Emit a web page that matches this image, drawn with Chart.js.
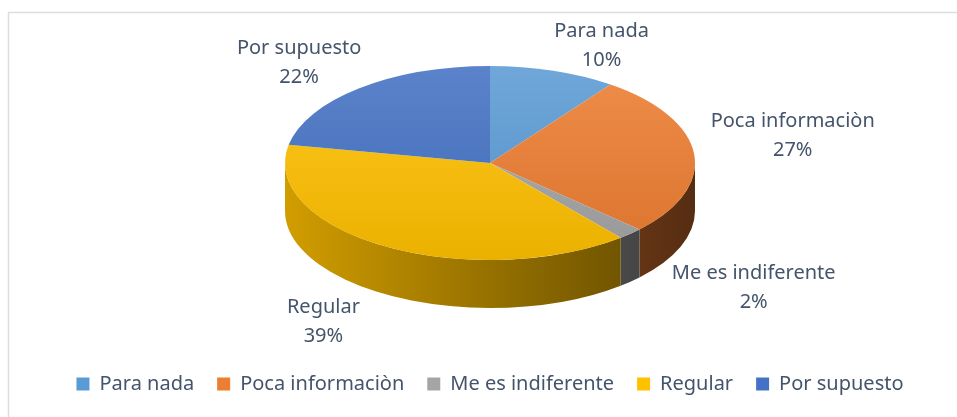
<!DOCTYPE html>
<html>
<head>
<meta charset="utf-8">
<script src="https://cdn.jsdelivr.net/npm/chart.js@4/dist/chart.umd.min.js"></script>
<style>
  html, body { margin: 0; padding: 0; background: #fff; }
  #wrap { width: 957px; height: 417px; }
</style>
</head>
<body>
<div id="wrap"><canvas id="myChart" width="957" height="417"></canvas></div>
<script>
const categories = ['Para nada', 'Poca informaciòn', 'Me es indiferente', 'Regular', 'Por supuesto'];
const shares = [10, 27, 2, 39, 22];
const sliceColors = ['#5B9BD5', '#ED7D31', '#A5A5A5', '#FFC000', '#4472C4'];

const TEXT = '#44546A';
const FONT = '"Noto Sans", "Open Sans", sans-serif';
const RADIUS = 205;
const TILT = 0.473;
const DEPTH = 48;

function rgb(hex) {
  const n = parseInt(hex.slice(1), 16);
  return [(n >> 16) & 255, (n >> 8) & 255, n & 255];
}
function shade(hex, f) {
  const c = rgb(hex).map(v => Math.round(v * f));
  return `rgb(${c[0]},${c[1]},${c[2]})`;
}
function tint(hex, t) {
  const c = rgb(hex).map(v => Math.round(v + (255 - v) * t));
  return `rgb(${c[0]},${c[1]},${c[2]})`;
}

// top face gradient, in the un-tilted pie space
function topFill(context) {
  const chart = context.chart;
  const area = chart.chartArea;
  const base = sliceColors[context.dataIndex];
  if (!area) return base;
  const cy = (area.top + area.bottom) / 2;
  const g = chart.ctx.createLinearGradient(0, cy - RADIUS, 0, cy + RADIUS);
  g.addColorStop(0, tint(base, 0.12));
  g.addColorStop(1, shade(base, 0.92));
  return g;
}

const pie3d = {
  id: 'pie3d',
  beforeDraw(chart) {
    const ctx = chart.ctx;
    ctx.save();
    ctx.strokeStyle = '#d9dee5';
    ctx.lineWidth = 1.5;
    ctx.beginPath();
    ctx.moveTo(8.5, chart.height);
    ctx.lineTo(8.5, 12.5);
    ctx.lineTo(chart.width, 12.5);
    ctx.stroke();
    ctx.restore();
  },
  beforeDatasetsDraw(chart) {
    const ctx = chart.ctx;
    const arcs = chart.getDatasetMeta(0).data;
    const { x, y, outerRadius: r } = arcs[0];
    ctx.save();
    // side wall, only the front half shows
    arcs.forEach((arc, i) => {
      const a1 = Math.max(arc.startAngle, 0);
      const a2 = Math.min(arc.endAngle, Math.PI);
      if (a2 <= a1) return;
      const g = ctx.createLinearGradient(x - r, 0, x + r, 0);
      g.addColorStop(0, shade(sliceColors[i], 0.82));
      g.addColorStop(1, shade(sliceColors[i], 0.36));
      ctx.beginPath();
      ctx.ellipse(x, y, r, r * TILT, 0, a1, a2);
      ctx.ellipse(x, y + DEPTH, r, r * TILT, 0, a2, a1, true);
      ctx.closePath();
      ctx.fillStyle = g;
      ctx.fill();
    });
    // squash the pie into an ellipse for the top face
    ctx.translate(x, y);
    ctx.scale(1, TILT);
    ctx.translate(-x, -y);
  },
  afterDatasetsDraw(chart, args, opts) {
    const ctx = chart.ctx;
    ctx.restore();
    const arcs = chart.getDatasetMeta(0).data;
    const total = shares.reduce((a, b) => a + b, 0);
    ctx.save();
    ctx.font = `20px ${FONT}`;
    ctx.fillStyle = TEXT;
    ctx.textAlign = 'center';
    ctx.textBaseline = 'middle';
    arcs.forEach((arc, i) => {
      const mid = (arc.startAngle + arc.endAngle) / 2;
      const ux = Math.cos(mid), uy = Math.sin(mid);
      const r = arc.outerRadius;
      const ex = arc.x + r * ux;
      const ey = arc.y + r * TILT * uy + (uy > 0 ? DEPTH * uy : 0);
      const line1 = categories[i];
      const line2 = Math.round(shares[i] / total * 100) + '%';
      const w = Math.max(ctx.measureText(line1).width, ctx.measureText(line2).width);
      const h = 58;
      const gap = 15;
      const nudge = opts.nudge[i] || [0, 0];
      const cx = ex + (gap + w / 2) * ux + nudge[0];
      const cy = ey + (gap + h / 2) * uy + nudge[1];
      ctx.fillText(line1, cx, cy - 14.5);
      ctx.fillText(line2, cx, cy + 14.5);
    });
    ctx.restore();
  }
};

const legendLabels = Chart.overrides.doughnut.plugins.legend.labels.generateLabels;

new Chart(document.getElementById('myChart'), {
  type: 'pie',
  data: {
    labels: categories,
    datasets: [{
      data: shares,
      backgroundColor: topFill,
      borderWidth: 0,
      radius: RADIUS
    }]
  },
  options: {
    responsive: false,
    animation: false,
    events: [],
    layout: { padding: { left: 23, right: 0, top: 0, bottom: 13 } },
    plugins: {
      tooltip: { enabled: false },
      pie3d: { nudge: [[29, 17], [2, -14], [57, -13], [-36, -4], [-11, 8]] },
      legend: {
        position: 'bottom',
        title: { display: true, text: '', font: { size: 12 }, padding: { top: 10.6, bottom: 0 } },
        labels: {
          color: TEXT,
          font: { family: FONT, size: 20 },
          boxWidth: 13,
          boxHeight: 13,
          padding: 23,
          generateLabels(chart) {
            return legendLabels(chart).map((item, i) => {
              item.fillStyle = sliceColors[i];
              item.strokeStyle = sliceColors[i];
              item.lineWidth = 0;
              return item;
            });
          }
        }
      }
    }
  },
  plugins: [pie3d]
});
</script>
</body>
</html>
